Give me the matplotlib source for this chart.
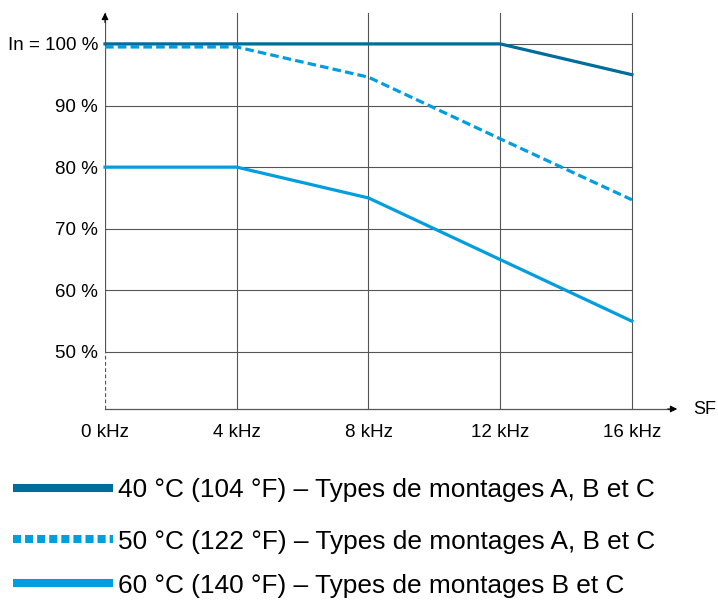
import matplotlib.pyplot as plt
from matplotlib.lines import Line2D

plt.rcParams["font.family"] = ["Liberation Sans", "DejaVu Sans"]

freq_khz = [0, 4, 8, 12, 16]
x_labels = ["0 kHz", "4 kHz", "8 kHz", "12 kHz", "16 kHz"]
y_ticks = [50, 60, 70, 80, 90, 100]
y_labels = ["50 %", "60 %", "70 %", "80 %", "90 %", "In = 100 %"]

curve_40 = [100, 100, 100, 100, 95]
curve_50 = [99.5, 99.5, 94.6, 84.6, 74.7]
curve_60 = [80, 80, 75, 65, 55]

labels = [
    "40 °C (104 °F) – Types de montages A, B et C",
    "50 °C (122 °F) – Types de montages A, B et C",
    "60 °C (140 °F) – Types de montages B et C",
]

dark = "#006c9c"
light = "#009ddf"
grid_c = "#555555"

W, H = 718, 603
fig = plt.figure(figsize=(W / 100, H / 100), dpi=100)
ax = fig.add_axes([105 / W, (H - 409) / H, 575 / W, 399 / H])
ax.set_xlim(0, 17.46)
ax.set_ylim(40.75, 105.5)
for s in ax.spines.values():
    s.set_visible(False)

# grid
for y in y_ticks:
    ax.plot([0, 16], [y, y], color=grid_c, lw=0.8, zorder=1)
for x in freq_khz[1:]:
    ax.plot([x, x], [40.75, 105], color=grid_c, lw=0.8, zorder=1)

# axes with arrows
ax.plot([0, 0], [50, 105], color=grid_c, lw=0.9, zorder=2)
ax.plot([0, 0], [40.75, 50], color=grid_c, lw=0.9, ls=(0, (3, 2)), zorder=2)
ax.annotate("", xy=(0, 105.5), xytext=(0, 103), annotation_clip=False,
            arrowprops=dict(arrowstyle="-|>", color="black", lw=0.8,
                            mutation_scale=10))
ax.plot([0, 17.2], [40.75, 40.75], color=grid_c, lw=0.9, zorder=2,
        clip_on=False)
ax.annotate("", xy=(17.46, 40.75), xytext=(17.0, 40.75), annotation_clip=False,
            arrowprops=dict(arrowstyle="-|>", color="black", lw=0.8,
                            mutation_scale=10))
ax.text(17.85, 40.75, "SF", fontsize=13, va="center", ha="left",
        clip_on=False)

# curves
ax.plot(freq_khz, curve_40, color=dark, lw=2.3, zorder=4, clip_on=False)
ax.plot(freq_khz, curve_50, color=light, lw=2.3, dashes=(2.7, 1.3),
        zorder=3, clip_on=False)
ax.plot(freq_khz, curve_60, color=light, lw=2.3, zorder=3, clip_on=False)

ax.set_xticks(freq_khz)
ax.set_xticklabels(x_labels, fontsize=13.5)
ax.set_yticks(y_ticks)
ax.set_yticklabels(y_labels, fontsize=13.5)
ax.tick_params(length=0, pad=5)
ax.tick_params(axis="x", pad=11)

# legend
leg_y = [488, 539, 583]
styles = [dict(color=dark), dict(color=light, dashes=(1.0, 0.5)),
          dict(color=light)]
for yy, lab, st in zip(leg_y, labels, styles):
    yf = (H - yy) / H
    fig.add_artist(Line2D([13 / W, 113 / W], [yf, yf], lw=5.8,
                          solid_capstyle="butt", dash_capstyle="butt",
                          transform=fig.transFigure, **st))
    fig.text(118 / W, yf, lab, fontsize=18.9, va="center_baseline",
             ha="left")

fig.savefig("out.png", dpi=100)
